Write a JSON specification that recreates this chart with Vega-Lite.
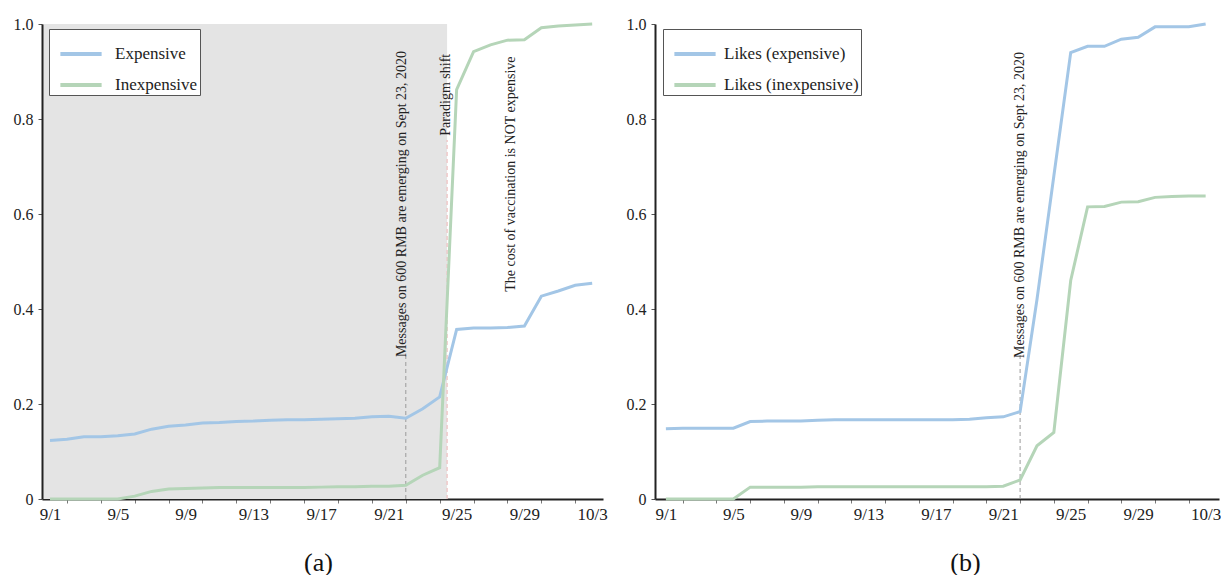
{
  "$schema": "https://vega.github.io/schema/vega-lite/v6.json",
  "background": "white",
  "padding": {"left": 13, "top": 16, "right": 0, "bottom": 0},
  "autosize": {"type": "pad"},
  "spacing": 18,
  "config": {"view": {"stroke": null}, "font": "Liberation Serif", "axis": {"labelFont": "Liberation Serif", "titleFont": "Liberation Serif"}, "legend": {"labelFont": "Liberation Serif"}, "text": {"font": "Liberation Serif"}},
  "resolve": {"scale": {"color": "independent", "x": "independent", "y": "independent"}, "legend": {"color": "independent"}},
  "datasets": {
    "left": [
      {"d":"2020-09-01","s":"Expensive","v":0.123},{"d":"2020-09-02","s":"Expensive","v":0.126},{"d":"2020-09-03","s":"Expensive","v":0.131},{"d":"2020-09-04","s":"Expensive","v":0.131},{"d":"2020-09-05","s":"Expensive","v":0.133},{"d":"2020-09-06","s":"Expensive","v":0.137},{"d":"2020-09-07","s":"Expensive","v":0.147},{"d":"2020-09-08","s":"Expensive","v":0.153},{"d":"2020-09-09","s":"Expensive","v":0.156},{"d":"2020-09-10","s":"Expensive","v":0.160},{"d":"2020-09-11","s":"Expensive","v":0.161},{"d":"2020-09-12","s":"Expensive","v":0.163},{"d":"2020-09-13","s":"Expensive","v":0.164},{"d":"2020-09-14","s":"Expensive","v":0.166},{"d":"2020-09-15","s":"Expensive","v":0.167},{"d":"2020-09-16","s":"Expensive","v":0.167},{"d":"2020-09-17","s":"Expensive","v":0.168},{"d":"2020-09-18","s":"Expensive","v":0.169},{"d":"2020-09-19","s":"Expensive","v":0.170},{"d":"2020-09-20","s":"Expensive","v":0.173},{"d":"2020-09-21","s":"Expensive","v":0.174},{"d":"2020-09-22","s":"Expensive","v":0.170},{"d":"2020-09-23","s":"Expensive","v":0.190},{"d":"2020-09-24","s":"Expensive","v":0.215},{"d":"2020-09-25","s":"Expensive","v":0.357},{"d":"2020-09-26","s":"Expensive","v":0.360},{"d":"2020-09-27","s":"Expensive","v":0.360},{"d":"2020-09-28","s":"Expensive","v":0.361},{"d":"2020-09-29","s":"Expensive","v":0.364},{"d":"2020-09-30","s":"Expensive","v":0.427},{"d":"2020-10-01","s":"Expensive","v":0.438},{"d":"2020-10-02","s":"Expensive","v":0.450},{"d":"2020-10-03","s":"Expensive","v":0.454},
      {"d":"2020-09-01","s":"Inexpensive","v":0.0},{"d":"2020-09-02","s":"Inexpensive","v":0.0},{"d":"2020-09-03","s":"Inexpensive","v":0.0},{"d":"2020-09-04","s":"Inexpensive","v":0.0},{"d":"2020-09-05","s":"Inexpensive","v":0.0},{"d":"2020-09-06","s":"Inexpensive","v":0.006},{"d":"2020-09-07","s":"Inexpensive","v":0.016},{"d":"2020-09-08","s":"Inexpensive","v":0.021},{"d":"2020-09-09","s":"Inexpensive","v":0.022},{"d":"2020-09-10","s":"Inexpensive","v":0.023},{"d":"2020-09-11","s":"Inexpensive","v":0.024},{"d":"2020-09-12","s":"Inexpensive","v":0.024},{"d":"2020-09-13","s":"Inexpensive","v":0.024},{"d":"2020-09-14","s":"Inexpensive","v":0.024},{"d":"2020-09-15","s":"Inexpensive","v":0.024},{"d":"2020-09-16","s":"Inexpensive","v":0.024},{"d":"2020-09-17","s":"Inexpensive","v":0.025},{"d":"2020-09-18","s":"Inexpensive","v":0.026},{"d":"2020-09-19","s":"Inexpensive","v":0.026},{"d":"2020-09-20","s":"Inexpensive","v":0.027},{"d":"2020-09-21","s":"Inexpensive","v":0.027},{"d":"2020-09-22","s":"Inexpensive","v":0.029},{"d":"2020-09-23","s":"Inexpensive","v":0.050},{"d":"2020-09-24","s":"Inexpensive","v":0.066},{"d":"2020-09-25","s":"Inexpensive","v":0.862},{"d":"2020-09-26","s":"Inexpensive","v":0.942},{"d":"2020-09-27","s":"Inexpensive","v":0.956},{"d":"2020-09-28","s":"Inexpensive","v":0.966},{"d":"2020-09-29","s":"Inexpensive","v":0.967},{"d":"2020-09-30","s":"Inexpensive","v":0.992},{"d":"2020-10-01","s":"Inexpensive","v":0.996},{"d":"2020-10-02","s":"Inexpensive","v":0.998},{"d":"2020-10-03","s":"Inexpensive","v":1.0}
    ],
    "right": [
      {"d":"2020-09-01","s":"Likes (expensive)","v":0.148},{"d":"2020-09-02","s":"Likes (expensive)","v":0.149},{"d":"2020-09-03","s":"Likes (expensive)","v":0.149},{"d":"2020-09-04","s":"Likes (expensive)","v":0.149},{"d":"2020-09-05","s":"Likes (expensive)","v":0.149},{"d":"2020-09-06","s":"Likes (expensive)","v":0.163},{"d":"2020-09-07","s":"Likes (expensive)","v":0.164},{"d":"2020-09-08","s":"Likes (expensive)","v":0.164},{"d":"2020-09-09","s":"Likes (expensive)","v":0.164},{"d":"2020-09-10","s":"Likes (expensive)","v":0.166},{"d":"2020-09-11","s":"Likes (expensive)","v":0.167},{"d":"2020-09-12","s":"Likes (expensive)","v":0.167},{"d":"2020-09-13","s":"Likes (expensive)","v":0.167},{"d":"2020-09-14","s":"Likes (expensive)","v":0.167},{"d":"2020-09-15","s":"Likes (expensive)","v":0.167},{"d":"2020-09-16","s":"Likes (expensive)","v":0.167},{"d":"2020-09-17","s":"Likes (expensive)","v":0.167},{"d":"2020-09-18","s":"Likes (expensive)","v":0.167},{"d":"2020-09-19","s":"Likes (expensive)","v":0.168},{"d":"2020-09-20","s":"Likes (expensive)","v":0.171},{"d":"2020-09-21","s":"Likes (expensive)","v":0.173},{"d":"2020-09-22","s":"Likes (expensive)","v":0.184},{"d":"2020-09-23","s":"Likes (expensive)","v":0.420},{"d":"2020-09-24","s":"Likes (expensive)","v":0.680},{"d":"2020-09-25","s":"Likes (expensive)","v":0.940},{"d":"2020-09-26","s":"Likes (expensive)","v":0.953},{"d":"2020-09-27","s":"Likes (expensive)","v":0.953},{"d":"2020-09-28","s":"Likes (expensive)","v":0.968},{"d":"2020-09-29","s":"Likes (expensive)","v":0.972},{"d":"2020-09-30","s":"Likes (expensive)","v":0.994},{"d":"2020-10-01","s":"Likes (expensive)","v":0.994},{"d":"2020-10-02","s":"Likes (expensive)","v":0.994},{"d":"2020-10-03","s":"Likes (expensive)","v":1.0},
      {"d":"2020-09-01","s":"Likes (inexpensive)","v":0.0},{"d":"2020-09-02","s":"Likes (inexpensive)","v":0.0},{"d":"2020-09-03","s":"Likes (inexpensive)","v":0.0},{"d":"2020-09-04","s":"Likes (inexpensive)","v":0.0},{"d":"2020-09-05","s":"Likes (inexpensive)","v":0.0},{"d":"2020-09-06","s":"Likes (inexpensive)","v":0.025},{"d":"2020-09-07","s":"Likes (inexpensive)","v":0.025},{"d":"2020-09-08","s":"Likes (inexpensive)","v":0.025},{"d":"2020-09-09","s":"Likes (inexpensive)","v":0.025},{"d":"2020-09-10","s":"Likes (inexpensive)","v":0.026},{"d":"2020-09-11","s":"Likes (inexpensive)","v":0.026},{"d":"2020-09-12","s":"Likes (inexpensive)","v":0.026},{"d":"2020-09-13","s":"Likes (inexpensive)","v":0.026},{"d":"2020-09-14","s":"Likes (inexpensive)","v":0.026},{"d":"2020-09-15","s":"Likes (inexpensive)","v":0.026},{"d":"2020-09-16","s":"Likes (inexpensive)","v":0.026},{"d":"2020-09-17","s":"Likes (inexpensive)","v":0.026},{"d":"2020-09-18","s":"Likes (inexpensive)","v":0.026},{"d":"2020-09-19","s":"Likes (inexpensive)","v":0.026},{"d":"2020-09-20","s":"Likes (inexpensive)","v":0.026},{"d":"2020-09-21","s":"Likes (inexpensive)","v":0.027},{"d":"2020-09-22","s":"Likes (inexpensive)","v":0.040},{"d":"2020-09-23","s":"Likes (inexpensive)","v":0.112},{"d":"2020-09-24","s":"Likes (inexpensive)","v":0.140},{"d":"2020-09-25","s":"Likes (inexpensive)","v":0.460},{"d":"2020-09-26","s":"Likes (inexpensive)","v":0.615},{"d":"2020-09-27","s":"Likes (inexpensive)","v":0.616},{"d":"2020-09-28","s":"Likes (inexpensive)","v":0.625},{"d":"2020-09-29","s":"Likes (inexpensive)","v":0.626},{"d":"2020-09-30","s":"Likes (inexpensive)","v":0.635},{"d":"2020-10-01","s":"Likes (inexpensive)","v":0.637},{"d":"2020-10-02","s":"Likes (inexpensive)","v":0.638},{"d":"2020-10-03","s":"Likes (inexpensive)","v":0.638}
    ]
  },
  "hconcat": [
    {
      "width": 561,
      "height": 475,
      "encoding": {
        "x": {
          "field": "d", "type": "temporal",
          "scale": {"type": "utc", "domain": [{"year": 2020, "month": 8, "date": 31, "hours": 12, "minutes": 40, "utc": true}, {"year": 2020, "month": 10, "date": 3, "hours": 15, "minutes": 20, "utc": true}]},
          "axis": {
            "title": "(a)", "titleFont": "Liberation Serif", "titleFontSize": 26, "titleFontWeight": "normal", "titleColor": "#111",
            "titleX": 276, "titleY": 63, "titleBaseline": "middle", "titleAlign": "center",
            "tickCount": {"interval": "day", "step": 1},
            "labelExpr": "round((datum.value - utc(2020,8,1))/86400000) % 4 == 0 ? utcFormat(datum.value, '%-m/%-d') : ''",
            "labelOverlap": false, "labelFlush": false, "labelFont": "Liberation Serif", "labelFontSize": 17, "labelColor": "#222", "labelPadding": 3,
            "tickSize": 4, "tickColor": "#777",
            "tickOpacity": {"condition": {"test": "round((datum.value - utc(2020,8,1))/86400000) % 2 == 1", "value": 1}, "value": 0},
            "domainColor": "#222", "domainWidth": 2, "grid": false
          }
        },
        "y": {
          "field": "v", "type": "quantitative",
          "scale": {"domain": [0, 1]},
          "axis": {"title": null, "values": [0, 0.2, 0.4, 0.6, 0.8, 1], "labelExpr": "datum.value == 0 ? '0' : format(datum.value, '.1f')", "grid": false, "domainColor": "#222", "domainWidth": 2, "tickColor": "#555", "tickSize": 4, "labelPadding": 5, "labelFont": "Liberation Serif", "labelFontSize": 16, "labelColor": "#222", "zindex": 1}
        }
      },
      "layer": [
        {
          "data": {"values": [{"d": "2020-08-31T12:40:00Z", "d2": "2020-09-24T10:30:00Z", "v": 0, "v2": 1}]},
          "mark": {"type": "rect", "fill": "#e4e4e4", "stroke": null},
          "encoding": {"x2": {"field": "d2"}, "y2": {"field": "v2"}}
        },
        {
          "data": {"values": [{"d": "2020-09-22T00:00:00Z", "v": 0, "v2": 0.303}]},
          "mark": {"type": "rule", "color": "#9a9a9a", "strokeWidth": 1, "strokeDash": [4, 3]},
          "encoding": {"y2": {"field": "v2"}}
        },
        {
          "data": {"values": [{"d": "2020-09-24T10:30:00Z", "v": 0, "v2": 0.756}]},
          "mark": {"type": "rule", "color": "#efc9c9", "strokeWidth": 1.5, "strokeDash": [4, 3]},
          "encoding": {"y2": {"field": "v2"}}
        },
        {
          "data": {"name": "left"},
          "mark": {"type": "line", "strokeWidth": 3},
          "encoding": {
            "color": {"field": "s", "type": "nominal", "scale": {"domain": ["Expensive", "Inexpensive"], "range": ["#a3c6e6", "#b5d5b8"]},
              "legend": {"title": null, "orient": "none", "legendX": 7, "legendY": 5, "symbolType": "stroke", "symbolSize": 1700, "symbolStrokeWidth": 4, "symbolOffset": 7, "labelFont": "Liberation Serif", "labelFontSize": 17, "labelColor": "#222", "labelExpr": "datum.label + '\u00a0\u00a0\u00a0\u00a0'", "strokeColor": "#555", "fillColor": "white", "padding": 2, "rowPadding": -8, "labelOffset": 11}}
          }
        },
        {
          "data": {"values": [
            {"d": "2020-09-22T00:00:00Z", "v": 0.621, "t": "Messages on 600 RMB are emerging on Sept 23, 2020"},
            {"d": "2020-09-24T14:00:00Z", "v": 0.851, "t": "Paradigm shift"},
            {"d": "2020-09-28T10:00:00Z", "v": 0.684, "t": "The cost of vaccination is NOT expensive"}
          ]},
          "mark": {"type": "text", "angle": 270, "align": "center", "baseline": "alphabetic", "font": "Liberation Serif", "fontSize": 14, "color": "#222"},
          "encoding": {"text": {"field": "t"}}
        }
      ]
    },
    {
      "width": 564,
      "height": 475,
      "encoding": {
        "x": {
          "field": "d", "type": "temporal",
          "scale": {"type": "utc", "domain": [{"year": 2020, "month": 8, "date": 31, "hours": 8, "minutes": 30, "utc": true}, {"year": 2020, "month": 10, "date": 3, "hours": 19, "utc": true}]},
          "axis": {
            "title": "(b)", "titleFont": "Liberation Serif", "titleFontSize": 26, "titleFontWeight": "normal", "titleColor": "#111",
            "titleX": 310, "titleY": 63, "titleBaseline": "middle", "titleAlign": "center",
            "tickCount": {"interval": "day", "step": 1},
            "labelExpr": "round((datum.value - utc(2020,8,1))/86400000) % 4 == 0 ? utcFormat(datum.value, '%-m/%-d') : ''",
            "labelOverlap": false, "labelFlush": false, "labelFont": "Liberation Serif", "labelFontSize": 17, "labelColor": "#222", "labelPadding": 3,
            "tickSize": 4, "tickColor": "#777",
            "tickOpacity": {"condition": {"test": "round((datum.value - utc(2020,8,1))/86400000) % 2 == 1", "value": 1}, "value": 0},
            "domainColor": "#222", "domainWidth": 2, "grid": false
          }
        },
        "y": {
          "field": "v", "type": "quantitative",
          "scale": {"domain": [0, 1]},
          "axis": {"title": null, "values": [0, 0.2, 0.4, 0.6, 0.8, 1], "labelExpr": "datum.value == 0 ? '0' : format(datum.value, '.1f')", "grid": false, "domainColor": "#222", "domainWidth": 2, "tickColor": "#555", "tickSize": 4, "labelPadding": 5, "labelFont": "Liberation Serif", "labelFontSize": 16, "labelColor": "#222", "zindex": 1}
        }
      },
      "layer": [
        {
          "data": {"values": [{"d": "2020-09-22T00:00:00Z", "v": 0, "v2": 0.303}]},
          "mark": {"type": "rule", "color": "#9a9a9a", "strokeWidth": 1, "strokeDash": [4, 3]},
          "encoding": {"y2": {"field": "v2"}}
        },
        {
          "data": {"name": "right"},
          "mark": {"type": "line", "strokeWidth": 3},
          "encoding": {
            "color": {"field": "s", "type": "nominal", "scale": {"domain": ["Likes (expensive)", "Likes (inexpensive)"], "range": ["#a3c6e6", "#b5d5b8"]},
              "legend": {"title": null, "orient": "none", "legendX": 8, "legendY": 5, "symbolType": "stroke", "symbolSize": 1700, "symbolStrokeWidth": 4, "symbolOffset": 7, "labelFont": "Liberation Serif", "labelFontSize": 17, "labelColor": "#222", "labelExpr": "datum.label + '\u00a0\u00a0'", "strokeColor": "#555", "fillColor": "white", "padding": 2, "rowPadding": -8, "labelOffset": 6}}
          }
        },
        {
          "data": {"values": [
            {"d": "2020-09-22T00:00:00Z", "v": 0.619, "t": "Messages on 600 RMB are emerging on Sept 23, 2020"}
          ]},
          "mark": {"type": "text", "angle": 270, "align": "center", "baseline": "middle", "font": "Liberation Serif", "fontSize": 14, "color": "#222"},
          "encoding": {"text": {"field": "t"}}
        }
      ]
    }
  ]
}
